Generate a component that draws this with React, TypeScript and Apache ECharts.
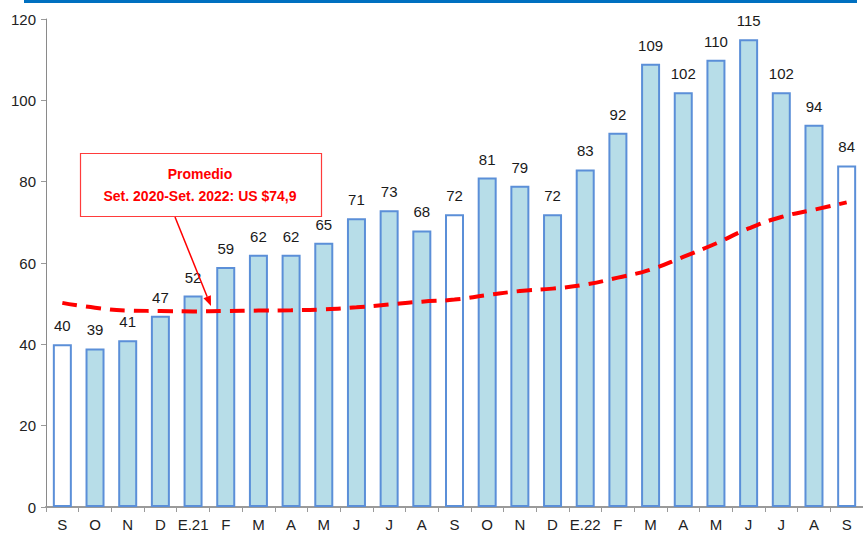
import React, { useEffect, useRef } from "react";
import * as echarts from "echarts";

const categories = ["S", "O", "N", "D", "E.21", "F", "M", "A", "M", "J", "J", "A", "S", "O", "N", "D", "E.22", "F", "M", "A", "M", "J", "J", "A", "S"];
const prices = [40, 39, 41, 47, 52, 59, 62, 62, 65, 71, 73, 68, 72, 81, 79, 72, 83, 92, 109, 102, 110, 115, 102, 94, 84];
const average = [50.2, 49.0, 48.3, 48.2, 48.1, 48.2, 48.3, 48.4, 48.6, 49.1, 49.8, 50.5, 51.0, 52.1, 53.1, 53.7, 54.7, 56.4, 58.4, 61.5, 64.8, 68.5, 71.3, 73.1, 74.9];
const septemberIdx = [0, 12, 24];
const yTicks = { min: 0, max: 120, interval: 20 };
const noteLines = ["Promedio", "Set. 2020-Set. 2022: US $74,9"];

const FONT = "'Liberation Sans Narrow', 'Arial Narrow', 'Liberation Sans', Arial, sans-serif";

export default function App() {
  const ref = useRef<HTMLDivElement>(null);
  useEffect(() => {
    if (!ref.current) return;
    const chart = echarts.init(ref.current, undefined, { renderer: "svg" });
    const head = (() => {
      const tip = [211, 306];
      const d = [36, 87];
      const len = Math.hypot(d[0], d[1]);
      const u = [d[0] / len, d[1] / len];
      const p = [-u[1], u[0]];
      const L = 10, W = 4;
      const b = [tip[0] - u[0] * L, tip[1] - u[1] * L];
      return [
        [b[0] + p[0] * W, b[1] + p[1] * W],
        [b[0] - p[0] * W, b[1] - p[1] * W],
        tip,
      ];
    })();
    chart.setOption({
      animation: false,
      backgroundColor: "#ffffff",
      textStyle: { fontFamily: FONT },
      grid: { left: 46, top: 19, width: 822, height: 488, containLabel: false },
      xAxis: {
        type: "category",
        data: categories,
        axisLine: { lineStyle: { color: "#9a9a9a", width: 2 } },
        axisTick: { show: true, length: 5, lineStyle: { color: "#9a9a9a", width: 1 } },
        axisLabel: { color: "#222", fontSize: 15, fontFamily: FONT, margin: 10, interval: 0 },
      },
      yAxis: {
        type: "value",
        min: yTicks.min,
        max: yTicks.max,
        interval: yTicks.interval,
        axisLine: { show: true, lineStyle: { color: "#8a8a8a", width: 1 } },
        axisTick: { show: true, length: 5, lineStyle: { color: "#9a9a9a" } },
        splitLine: { show: false },
        axisLabel: { color: "#222", fontSize: 15, fontFamily: FONT, margin: 10 },
      },
      series: [
        {
          type: "bar",
          barWidth: 19,
          data: prices.map((v, i) => ({
            value: v,
            itemStyle: {
              color: septemberIdx.includes(i) ? "#ffffff" : "#b7dde8",
              borderColor: "#5b8fd8",
              borderWidth: 2,
            },
          })),
          label: {
            show: true,
            position: "top",
            distance: 11,
            color: "#1a1a1a",
            fontSize: 15,
            fontFamily: FONT,
          },
          z: 2,
        },
        {
          type: "line",
          data: average,
          smooth: true,
          symbol: "none",
          lineStyle: { color: "#ff0000", width: 4, type: [15, 9] },
          z: 3,
        },
      ],
      graphic: [
        { type: "rect", shape: { x: 24, y: 0, width: 833, height: 3 }, style: { fill: "#0070c0" }, z: 10 },
        {
          type: "rect",
          shape: { x: 80.5, y: 153.5, width: 241, height: 63 },
          style: { fill: "#ffffff", stroke: "#ff3b3b", lineWidth: 1.2 },
          z: 10,
        },
        {
          type: "text",
          x: 200,
          y: 174,
          style: { text: noteLines[0], fill: "#ff0000", font: `bold 14px ${FONT}`, align: "center", verticalAlign: "middle" },
          z: 11,
        },
        {
          type: "text",
          x: 200,
          y: 196,
          style: { text: noteLines[1], fill: "#ff0000", font: `bold 14px ${FONT}`, align: "center", verticalAlign: "middle" },
          z: 11,
        },
        {
          type: "line",
          shape: { x1: 175, y1: 217, x2: (head[0][0] + head[1][0]) / 2, y2: (head[0][1] + head[1][1]) / 2 },
          style: { stroke: "#ff0000", lineWidth: 1.5 },
          z: 11,
        },
        { type: "polygon", shape: { points: head }, style: { fill: "#ff0000" }, z: 11 },
      ],
    });
    return () => chart.dispose();
  }, []);
  return <div ref={ref} style={{ position: "fixed", left: 0, top: 0, width: 863, height: 539 }} />;
}
